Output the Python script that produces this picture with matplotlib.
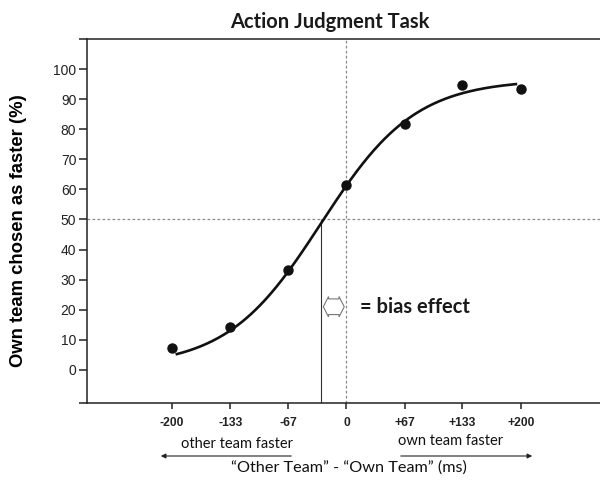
import numpy as np
import matplotlib
matplotlib.use("Agg")
import matplotlib.pyplot as plt
from matplotlib.patches import FancyArrowPatch, Polygon

soa_ms = [-200, -133, -67, 0, 67, 133, 200]
soa_labels = ['-200', '-133', '-67', '0', '+67', '+133', '+200']
own_faster_pct = [7.4, 14.2, 33.1, 61.5, 81.6, 94.8, 93.5]

# psychometric fit parameters (logistic with guess/lapse)
fit_pse = -29.0
fit_slope = 54.0
fit_lower = 1.0
fit_upper = 96.5
fit_range = (-196, 196)

TEXT_FONT = ['Lato', 'DejaVu Sans']
NUM_FONT = ['Liberation Sans', 'DejaVu Sans']
GREY = '#8a8a8a'

fig = plt.figure(figsize=(6.0, 4.84), dpi=100)
ax = fig.add_axes([86.7 / 600, 81 / 484, 1 - 86.7 / 600, 364 / 484])
ax.set_xlim(-298, 291)
ax.set_ylim(-11, 110)

# reference lines
ax.axhline(50, color=GREY, lw=0.9, ls=(0, (2.2, 1.8)), zorder=1)
ax.axvline(0, color=GREY, lw=0.9, ls=(0, (2.2, 1.8)), zorder=1)
ax.vlines(fit_pse, -11, 50, color='#333333', lw=0.8, zorder=1)

# fitted curve
xf = np.linspace(fit_range[0], fit_range[1], 300)
yf = fit_lower + (fit_upper - fit_lower) / (1 + np.exp(-(xf - fit_pse) / fit_slope))
ax.plot(xf, yf, color='#111111', lw=1.9, zorder=3, solid_capstyle='butt')
ax.plot(soa_ms, own_faster_pct, 'o', color='#111111', ms=6.5, zorder=4)

# bias effect marker: hollow double arrow between PSE and 0
by, l, r = 21, fit_pse + 2.5, -2.5
hx, hh, bh = 6, 3.4, 2.6
ax.add_patch(Polygon([(l, by), (l + hx, by + hh), (l + hx, by + bh), (r - hx, by + bh),
                      (r - hx, by + hh), (r, by), (r - hx, by - hh), (r - hx, by - bh),
                      (l + hx, by - bh), (l + hx, by - hh)], closed=True,
                     facecolor='white', edgecolor='#777777', lw=0.8, zorder=5))
ax.text(15.5, by, '= bias effect', fontsize=14.5, fontweight='bold', family=TEXT_FONT,
        ha='left', va='center', color='#1a1a1a')

# axes styling
ax.spines['right'].set_visible(False)
for s in ['left', 'bottom', 'top']:
    ax.spines[s].set_linewidth(1.1)
    ax.spines[s].set_color('#222222')

yt = [-11] + list(range(0, 101, 10)) + [110]
ax.set_yticks(yt)
ax.set_yticklabels([''] + [str(v) for v in range(0, 101, 10)] + [''],
                   fontsize=10, family=NUM_FONT)
ax.tick_params(axis='y', length=5.5, width=1.1, pad=2, colors='#222222')
ax.set_xticks(soa_ms)
ax.set_xticklabels(soa_labels, fontsize=8.7, fontweight='bold', family=NUM_FONT)
ax.tick_params(axis='x', length=4.5, width=1.1, pad=5.5, colors='#222222')

ax.set_ylabel('Own team chosen as faster (%)', fontsize=13.3, fontweight='bold',
              family=NUM_FONT)
ax.yaxis.set_label_coords(-(86.7 - 27) / 513.3, (403 - 231) / 364)

# titles and direction annotations
fig.text(330 / 600, 1 - 22 / 484, 'Action Judgment Task', fontsize=14.5, fontweight='bold',
         family=TEXT_FONT, ha='center', va='center', color='#1a1a1a')
fig.text(237 / 600, 1 - 444 / 484, 'other team faster', fontsize=10.5, family=TEXT_FONT,
         ha='center', va='center', color='#111111')
fig.text(451 / 600, 1 - 441 / 484, 'own team faster', fontsize=10.5, family=TEXT_FONT,
         ha='center', va='center', color='#111111')
fig.text(349 / 600, 1 - 468 / 484, '\u201cOther Team\u201d - \u201cOwn Team\u201d (ms)', fontsize=11.7,
         family=TEXT_FONT, ha='center', va='center', color='#111111')
fig.add_artist(FancyArrowPatch((294 / 600, 1 - 456 / 484), (158 / 600, 1 - 456 / 484),
                               transform=fig.transFigure, arrowstyle='-|>', mutation_scale=7,
                               color='#222222', lw=0.8))
fig.add_artist(FancyArrowPatch((398 / 600, 1 - 456 / 484), (535 / 600, 1 - 456 / 484),
                               transform=fig.transFigure, arrowstyle='-|>', mutation_scale=7,
                               color='#222222', lw=0.8))

fig.savefig('out.png', dpi=100, facecolor='white')
